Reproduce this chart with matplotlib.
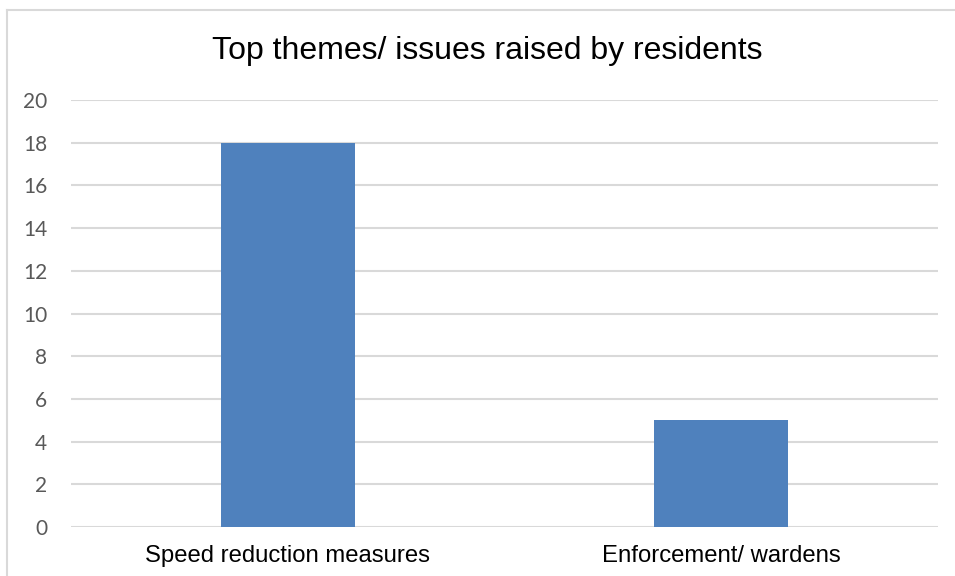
import matplotlib.pyplot as plt
from matplotlib.lines import Line2D

categories = ['Speed reduction measures', 'Enforcement/ wardens']
counts = [18, 5]
yticks = [0, 2, 4, 6, 8, 10, 12, 14, 16, 18, 20]

W, H = 955, 576
fig = plt.figure(figsize=(W / 100, H / 100), dpi=100)
ax = fig.add_axes([71 / W, 1 - 527 / H, (938 - 71) / W, (527 - 100) / H])

x = range(len(categories))
ax.bar(x, counts, width=0.31, color='#4F81BD', zorder=3)
ax.set_xlim(-0.5, len(categories) - 0.5)
ax.set_ylim(0, 20)
ax.set_yticks(yticks)
ax.set_xticks(list(x))
ax.set_xticklabels(categories, fontsize=17.2, family='Liberation Sans', color='#000000')
ax.tick_params(axis='x', length=0, pad=13)
ax.tick_params(axis='y', length=0, pad=17, labelsize=15, labelcolor='#595959')
for lbl in ax.get_yticklabels():
    lbl.set_family('Lato')

ax.grid(axis='y', color='#D9D9D9', linewidth=1.5, zorder=0)
for s in ax.spines.values():
    s.set_visible(False)

fig.text(487 / W, 1 - 51 / H, 'Top themes/ issues raised by residents',
         ha='center', va='center', fontsize=23, family='Liberation Sans')

# chart frame: only top and left edges fall inside the canvas
fig.add_artist(Line2D([6.5 / W, 1], [1 - 9.5 / H, 1 - 9.5 / H], color='#D9D9D9', lw=1.5))
fig.add_artist(Line2D([6.5 / W, 6.5 / W], [0, 1 - 9.5 / H], color='#D9D9D9', lw=1.5))

fig.savefig('out.png', dpi=100)
